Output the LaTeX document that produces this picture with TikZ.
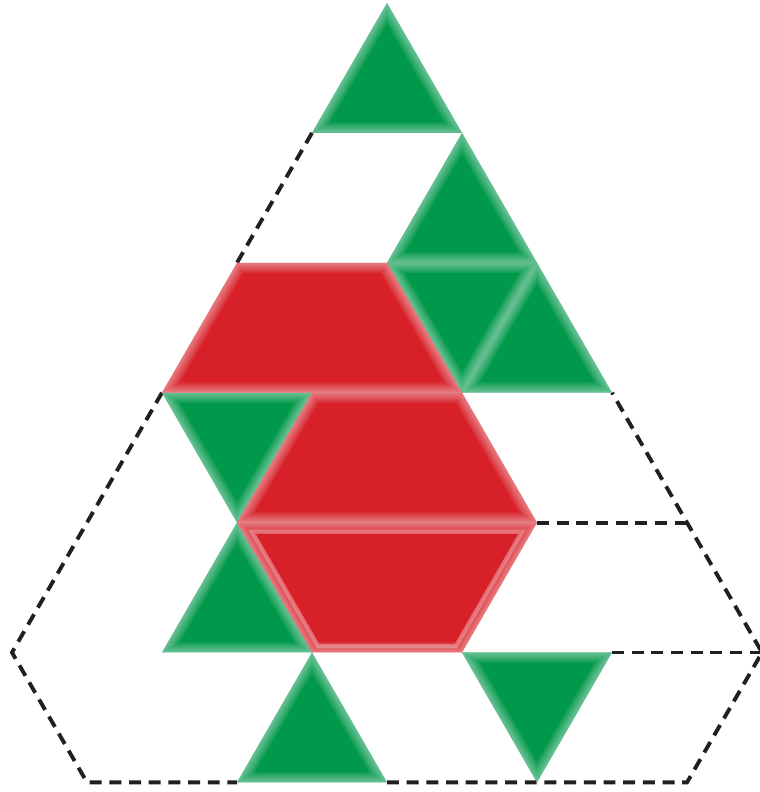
\documentclass[tikz,border=0pt]{standalone}
\usepackage{xcolor}
\usepackage{tikz}
\usetikzlibrary{calc}
\definecolor{tilegreen}{RGB}{0,152,74}
\definecolor{tilered}{RGB}{216,32,40}
\definecolor{gridink}{RGB}{35,31,32}

% one pattern block: fill, then a soft bevel clipped inside
\newcommand{\tilepiece}[2]{%
  \fill[#1] #2 -- cycle;
  \begin{scope}
    \clip #2 -- cycle;
    \foreach \w in {1,...,7}
      \draw[white, line width=\w*0.85pt, opacity=0.07] #2 -- cycle;
  \end{scope}}

\begin{document}
\begin{tikzpicture}[
    outline/.style={gridink, line width=1.1pt, dash pattern=on 3.4pt off 2.2pt},
    frame/.style={white, opacity=0.3, line width=1.2pt}
]
    \useasboundingbox (0,0) rectangle (7.59,7.92);
    \begin{scope}[shift={(3.87,7.89)}, x=0.75cm, y=-1.299cm]
    % corners of the dashed outline
    \coordinate (ltop) at (-1,1);
    \coordinate (lmid) at (-2,2);
    \coordinate (lupper) at (-3,3);
    \coordinate (lcorner) at (-5,5);
    \coordinate (lfoot) at (-4,6);
    \coordinate (bleft) at (-2,6);
    \coordinate (bright) at (0,6);
    \coordinate (rfoot) at (4,6);
    \coordinate (rcorner) at (5,5);
    \coordinate (rupper) at (3,3);
    \coordinate (rmid) at (4,4);
    \coordinate (hmid) at (2,4);
    \coordinate (hlow) at (3,5);

    \draw[outline] (ltop) -- (lmid);
    \draw[outline] (lupper) -- (lcorner) -- (lfoot) -- (bleft);
    \draw[outline] (bright) -- (rfoot) -- (rcorner) -- (rupper);
    \draw[outline] (hmid) -- (rmid);
    \draw[outline] (hlow) -- (rcorner);

    % green triangles
    \tilepiece{tilegreen}{(0,0) -- (1,1) -- (-1,1)}
    \tilepiece{tilegreen}{(1,1) -- (2,2) -- (0,2)}
    \tilepiece{tilegreen}{(0,2) -- (2,2) -- (1,3)}
    \tilepiece{tilegreen}{(2,2) -- (3,3) -- (1,3)}
    \tilepiece{tilegreen}{(-3,3) -- (-1,3) -- (-2,4)}
    \tilepiece{tilegreen}{(-2,4) -- (-1,5) -- (-3,5)}
    \tilepiece{tilegreen}{(-1,5) -- (0,6) -- (-2,6)}
    \tilepiece{tilegreen}{(1,5) -- (3,5) -- (2,6)}

    % red trapezoids
    \tilepiece{tilered}{(-2,2) -- (0,2) -- (1,3) -- (-3,3)}
    \tilepiece{tilered}{(-1,3) -- (1,3) -- (2,4) -- (-2,4)}
    \tilepiece{tilered}{(-2,4) -- (2,4) -- (1,5) -- (-1,5)}
    \draw[frame] (-1.8,4.07) -- (1.8,4.07) -- (0.92,4.95) -- (-0.92,4.95) -- cycle;
    \end{scope}
\end{tikzpicture}
\end{document}
